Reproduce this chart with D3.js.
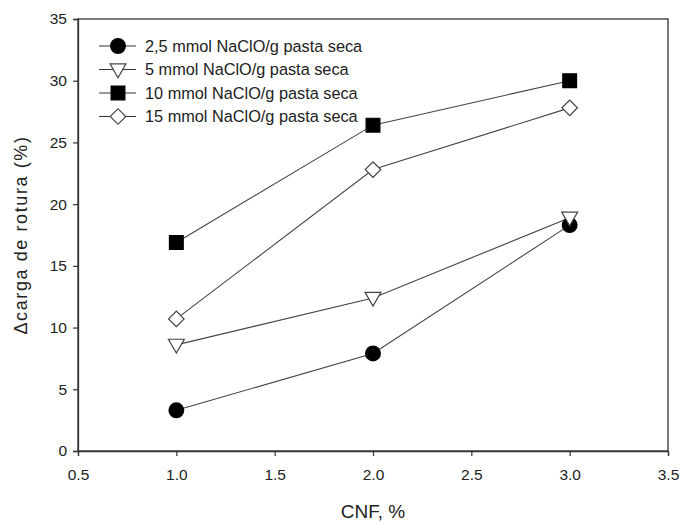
<!DOCTYPE html>
<html><head><meta charset="utf-8">
<script src="https://cdn.jsdelivr.net/npm/d3@7"></script>
<style>body{margin:0;background:#fff;} svg{display:block;}</style>
</head><body>
<script>
const xValues = [1.0, 2.0, 3.0];
const seriesNames = ["2,5 mmol NaClO/g pasta seca","5 mmol NaClO/g pasta seca","10 mmol NaClO/g pasta seca","15 mmol NaClO/g pasta seca"];
const s25 = [3.3, 7.9, 18.3];
const s5 = [8.6, 12.4, 18.9];
const s10 = [16.9, 26.4, 30.0];
const s15 = [10.7, 22.8, 27.8];
const xTicks = [0.5, 1.0, 1.5, 2.0, 2.5, 3.0, 3.5];
const yTicks = [0, 5, 10, 15, 20, 25, 30, 35];

const W = 681, H = 525;
const m = {left: 78, right: 13, top: 19, bottom: 74};
const svg = d3.select("body").append("svg").attr("width", W).attr("height", H);
const x = d3.scaleLinear().domain([0.5, 3.5]).range([m.left, W - m.right]);
const y = d3.scaleLinear().domain([0, 35]).range([H - m.bottom, m.top]);
const font = "'Liberation Sans', Arial, sans-serif";
const axisCol = "#333";

// frame
svg.append("rect").attr("x", x(0.5)).attr("y", y(35)).attr("width", x(3.5)-x(0.5)).attr("height", y(0)-y(35))
  .attr("fill","none").attr("stroke", axisCol).attr("stroke-width",1.3);

const xa = svg.append("g").attr("transform",`translate(0,${y(0)})`)
  .call(d3.axisBottom(x).tickValues(xTicks).tickFormat(d3.format(".1f")).tickSize(5).tickPadding(13));
const ya = svg.append("g").attr("transform",`translate(${x(0.5)},0)`)
  .call(d3.axisLeft(y).tickValues(yTicks).tickSize(5).tickPadding(6));
[xa, ya].forEach(a => {
  a.select(".domain").attr("stroke", axisCol).attr("stroke-width",1.3);
  a.selectAll(".tick line").attr("stroke", axisCol).attr("stroke-width",1.2);
  a.selectAll("text").attr("font-family", font).attr("font-size", 15.5).attr("fill","#222");
});

svg.append("text").attr("x", 373).attr("y", 518).attr("text-anchor","middle")
  .attr("font-family", font).attr("font-size", 19).attr("fill","#222").text("CNF, %");
svg.append("text").attr("transform",`translate(27,${(y(0)+y(35))/2}) rotate(-90)`).attr("text-anchor","middle")
  .attr("font-family", font).attr("font-size", 18).attr("letter-spacing", 1.6).attr("fill","#222").text("\u0394carga de rotura (%)");

const allSeries = [s25, s5, s10, s15];
const symbols = [
  {type: d3.symbolCircle, size: 170, fill: "#000", stroke: "#000", rot: 0},
  {type: d3.symbolTriangle, size: 110, fill: "#fff", stroke: "#444", rot: 180},
  {type: d3.symbolSquare, size: 190, fill: "#000", stroke: "#000", rot: 0},
  {type: d3.symbolSquare, size: 120, fill: "#fff", stroke: "#444", rot: 45}
];
const line = d3.line().x((d,i) => x(xValues[i])).y(d => y(d));

allSeries.forEach((s, k) => {
  svg.append("path").attr("d", line(s)).attr("fill","none").attr("stroke","#444").attr("stroke-width",1.1);
});
allSeries.forEach((s, k) => {
  const sym = symbols[k];
  svg.append("g").selectAll("path").data(s).join("path")
    .attr("d", d3.symbol().type(sym.type).size(sym.size))
    .attr("transform", (d,i) => `translate(${x(xValues[i])},${y(d) + (sym.rot===180 ? -1 : 0)}) rotate(${sym.rot})`)
    .attr("fill", sym.fill).attr("stroke", sym.stroke).attr("stroke-width", 1.2);
});

// legend
const lg = svg.append("g");
seriesNames.forEach((name, k) => {
  const yy = 46 + k * 23.5;
  const sym = symbols[k];
  lg.append("line").attr("x1", 99).attr("x2", 136).attr("y1", yy).attr("y2", yy).attr("stroke","#333").attr("stroke-width",1.2);
  lg.append("path").attr("d", d3.symbol().type(sym.type).size(sym.size))
    .attr("transform", `translate(118,${yy + (sym.rot===180 ? -1 : 0)}) rotate(${sym.rot})`)
    .attr("fill", sym.fill).attr("stroke", sym.stroke).attr("stroke-width", 1.2);
  lg.append("text").attr("x", 145).attr("y", yy + 5.5).attr("font-family", font).attr("font-size", 16.3)
    .attr("fill","#222").text(name);
});
</script>
</body></html>
